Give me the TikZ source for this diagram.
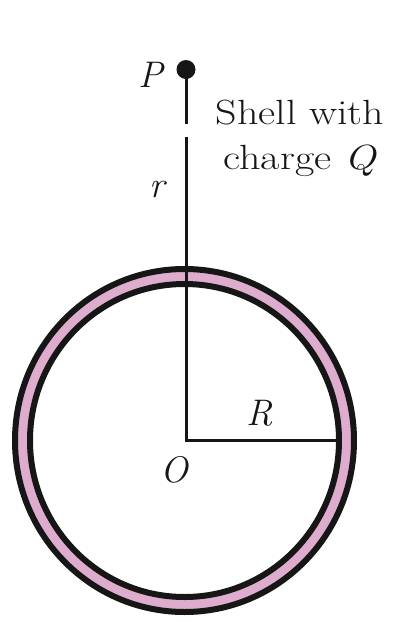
\documentclass[tikz,border=0pt]{standalone}
\usepackage{graphicx}
\definecolor{shellpink}{RGB}{222,172,204}
\definecolor{ink}{RGB}{22,22,22}
\begin{document}
\begin{tikzpicture}[x=1pt,y=-1pt,
  lbl/.style={font=\fontsize{37}{45}\selectfont, inner sep=0pt, text=ink},
  txtlbl/.style={font=\fontsize{35}{45}\selectfont, inner sep=0pt, text=ink, align=center},
  ring/.style={line width=6pt, draw=ink},
  wire/.style={line width=3pt, draw=ink}]
\useasboundingbox (0,0) rectangle (394,622);
\coordinate (C) at (184.5,440.5);
\draw[shellpink, line width=11pt] (C) ellipse [x radius=162, y radius=164];
\draw[ring] (C) ellipse [x radius=169.5, y radius=171.5];
\draw[ring] (C) ellipse [x radius=154.5, y radius=156.5];
\coordinate (O) at (186,440.5);
\coordinate (G1) at (186,124);
\coordinate (G2) at (186,137);
\coordinate (Rend) at (337,440.5);
\fill[ink] (186,69.5) circle [radius=9.5];
\coordinate (P) at (186,69.5);
\draw[wire] (P) -- (G1);
\draw[wire] (G2) -- (O) -- (Rend);
\node[lbl] (Plbl) at (151.5,75) {\textit{P}};
\node[lbl] (rlbl) at (158,190) {\textit{r}};
\node[lbl] (Rlbl) at (260,413) {\textit{R}};
\node[lbl] (Olbl) at (175,469.5) {\textit{O}};
\node[txtlbl] (txt) at (300,138) {\scalebox{1.2}[1]{Shell with}\\\scalebox{1.2}[1]{charge \textit{Q}}};
\end{tikzpicture}
\end{document}
